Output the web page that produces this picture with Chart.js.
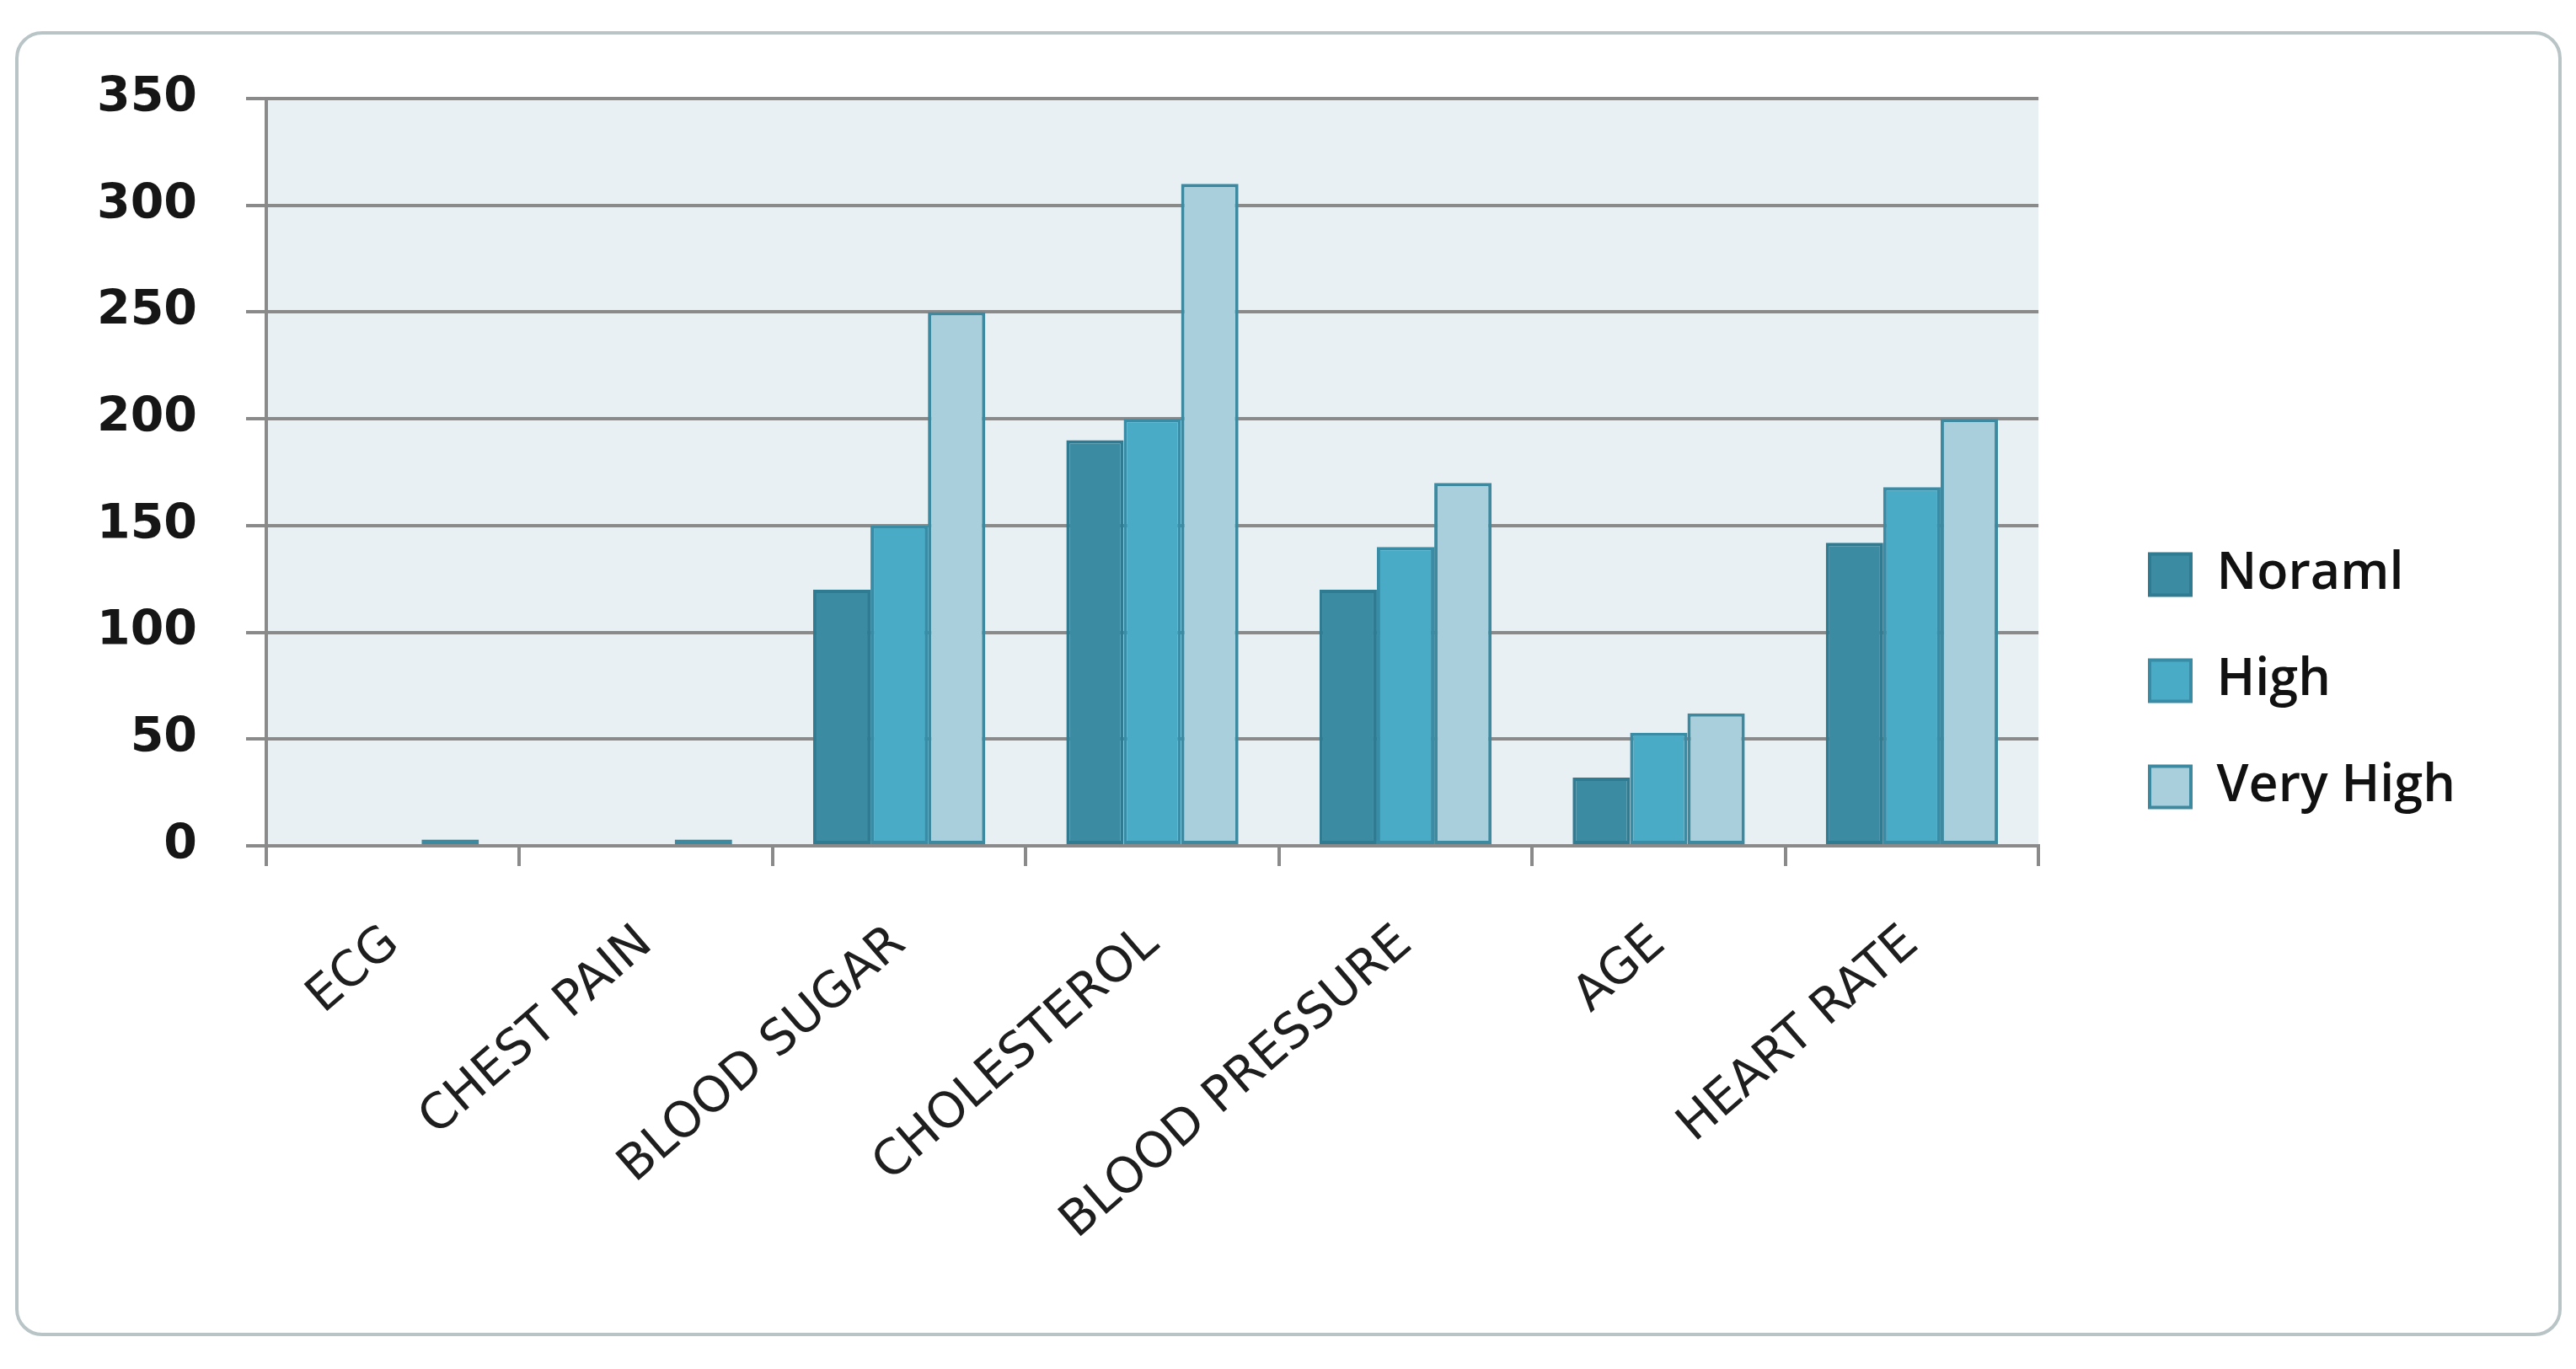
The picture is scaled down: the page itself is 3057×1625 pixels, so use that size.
<!DOCTYPE html>
<html>
<head>
<meta charset="utf-8">
<script src="https://cdn.jsdelivr.net/npm/chart.js@4/dist/chart.umd.min.js"></script>
<style>
  html, body { margin: 0; padding: 0; background: #fff; }
  canvas { display: block; }
</style>
</head>
<body>
<canvas id="chart" width="3057" height="1625"></canvas>
<script>
const categories = ["ECG", "CHEST PAIN", "BLOOD SUGAR", "CHOLESTEROL", "BLOOD PRESSURE", "AGE", "HEART RATE"]
const normalValues = [0, 0, 120, 190, 120, 32, 142]
const highValues = [0, 0, 150, 200, 140, 53, 168]
const veryHighValues = [3, 3, 250, 310, 170, 62, 200]
const yTicks = [0, 50, 100, 150, 200, 250, 300, 350]

const gridColor = "#8a8a8a"

// plot background + rounded frame round the whole chart
const framePlugin = {
  id: "frame",
  beforeDraw(chart) {
    const { ctx, chartArea } = chart
    ctx.save()
    ctx.fillStyle = "#e8f0f4"
    ctx.fillRect(chartArea.left, chartArea.top, chartArea.right - chartArea.left, chartArea.bottom - chartArea.top)
    ctx.strokeStyle = "#b9c4c6"
    ctx.lineWidth = 4
    ctx.beginPath()
    ctx.roundRect(20, 39, 3018, 1545, 30)
    ctx.stroke()
    ctx.restore()
  },
  afterLayout(chart) {
    // keep the legend clear of the plot, like the original
    const lg = chart.legend
    const dx = 2551 - (lg.left + lg.options.labels.padding)
    lg.left += dx
    lg.right += dx
  }
}

new Chart(document.getElementById("chart").getContext("2d"), {
  type: "bar",
  data: {
    labels: categories,
    datasets: [
      { label: "Noraml", data: normalValues, backgroundColor: "#3b8ba3", borderColor: "#2f7b92", borderWidth: 4, borderSkipped: false },
      { label: "High", data: highValues, backgroundColor: "#4aabc7", borderColor: "#398ca6", borderWidth: 4, borderSkipped: false },
      { label: "Very High", data: veryHighValues, backgroundColor: "#a9cfdc", borderColor: "#3d8aa0", borderWidth: 4, borderSkipped: false }
    ]
  },
  options: {
    responsive: false,
    animation: false,
    devicePixelRatio: 1,
    categoryPercentage: 0.68,
    barPercentage: 1.0,
    layout: { padding: { left: 40, top: 117, right: 200, bottom: 126 } },
    plugins: {
      legend: {
        position: "right",
        labels: {
          boxWidth: 49,
          boxHeight: 49,
          padding: 65,
          color: "#111",
          font: { family: "'Open Sans'", size: 61, weight: "600" }
        }
      },
      tooltip: { enabled: false }
    },
    scales: {
      x: {
        afterFit: (scale) => { scale.height = 495 },
        grid: { drawOnChartArea: false, drawTicks: true, tickLength: 24, color: gridColor, lineWidth: 4 },
        border: { display: true, color: gridColor, width: 4 },
        ticks: {
          minRotation: 41,
          maxRotation: 41,
          padding: 58,
          color: "#1e1e1e",
          font: { family: "'DejaVu Sans'", size: 58 }
        }
      },
      y: {
        min: 0,
        max: 350,
        afterFit: (scale) => { scale.width = 276 },
        afterBuildTicks: (scale) => { scale.ticks = yTicks.map(v => ({ value: v })) },
        grid: { color: gridColor, lineWidth: 4, tickLength: 24 },
        border: { display: true, color: gridColor, width: 4 },
        ticks: {
          padding: 58,
          color: "#161616",
          font: { family: "'DejaVu Sans'", size: 57, weight: "bold" }
        }
      }
    }
  },
  plugins: [framePlugin]
})
</script>
</body>
</html>
